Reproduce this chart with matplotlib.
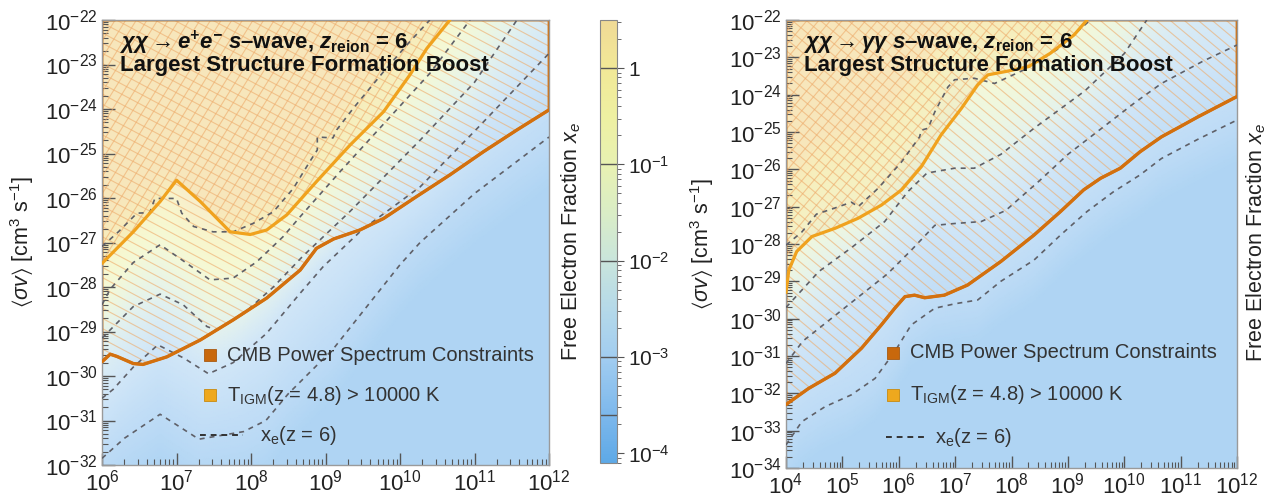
import numpy as np
import matplotlib
matplotlib.use("Agg")
import matplotlib.pyplot as plt
from matplotlib.colors import LinearSegmentedColormap, LogNorm, to_rgb
from matplotlib.collections import LineCollection
from matplotlib.lines import Line2D
import matplotlib.cm as cm
import matplotlib.ticker as mticker

plt.rcParams['font.family'] = ['Liberation Sans', 'DejaVu Sans']
plt.rcParams['mathtext.fontset'] = 'custom'
plt.rcParams['mathtext.rm'] = 'Liberation Sans'
plt.rcParams['mathtext.it'] = 'Liberation Sans:italic'
plt.rcParams['mathtext.bf'] = 'Liberation Sans:bold'
plt.rcParams['mathtext.bfit'] = 'Liberation Sans:bold:italic'
plt.rcParams['mathtext.default'] = 'regular'

# ---------------- data (log10 of mass [eV] and log10 of <sigma v> [cm^3/s]) ----------------
# Left panel: chi chi -> e+ e-
ee_cmb_m = [6.0, 6.11, 6.2, 6.42, 6.55, 6.87, 7.32, 7.76, 8.21, 8.66, 8.88, 9.11, 9.46, 9.78, 10.22, 10.67, 11.12, 11.57, 12.0]
ee_cmb_s = [-29.68, -29.51, -29.56, -29.72, -29.74, -29.57, -29.19, -28.74, -28.25, -27.62, -27.13, -26.92, -26.72, -26.46, -25.97, -25.48, -24.96, -24.47, -24.02]
ee_tigm_m = [6.0, 6.42, 6.78, 7.0, 7.32, 7.72, 7.99, 8.21, 8.48, 8.88, 9.33, 9.78, 10.13, 10.36, 10.67]
ee_tigm_s = [-27.47, -26.76, -26.08, -25.60, -26.08, -26.76, -26.82, -26.72, -26.38, -25.63, -24.81, -24.06, -23.24, -22.64, -22.0]
# x_e(z=6) contours, levels log10 x_e
ee_xe_levels = [-3.6, -3.0, -2.0, -1.0, 0.0]
ee_xe_m = [
    [6.0, 6.3, 6.78, 7.3, 7.9, 8.2, 8.5, 8.8, 9.1, 9.55, 10.0, 10.27, 11.0, 12.0],
    [6.0, 6.15, 6.42, 6.75, 7.1, 7.43, 7.76, 8.21, 8.66, 8.97, 9.5, 10.27, 11.0, 12.0],
    [6.0, 6.42, 6.78, 7.09, 7.41, 7.54, 7.9, 8.3, 8.7, 9.33, 10.27, 11.0, 11.57],
    [6.0, 6.11, 6.42, 6.78, 7.14, 7.45, 7.76, 8.08, 8.43, 8.66, 9.2, 9.8, 10.4, 10.94],
    [6.0, 6.22, 6.47, 6.64, 6.71, 7.0, 7.07, 7.23, 7.49, 7.76, 8.03, 8.30, 8.57, 8.79, 8.89, 8.89, 9.10, 9.15, 9.37, 9.78, 10.13, 10.40],
]
ee_xe_s = [
    [-31.85, -31.4, -30.86, -31.42, -31.25, -31.0, -30.4, -29.9, -29.4, -28.45, -27.5, -27.0, -25.9, -24.63],
    [-30.5, -30.3, -29.8, -29.3, -29.6, -29.95, -29.7, -29.04, -28.14, -27.54, -26.7, -25.75, -24.5, -22.75],
    [-29.15, -28.44, -28.16, -28.40, -28.89, -28.97, -28.6, -28.0, -27.3, -26.3, -24.7, -23.4, -22.0],
    [-28.4, -28.05, -27.45, -27.05, -27.47, -27.84, -27.80, -27.43, -26.87, -26.42, -25.4, -24.3, -23.2, -22.0],
    [-27.09, -26.76, -26.34, -26.33, -26.01, -26.01, -26.34, -26.64, -26.76, -26.76, -26.57, -26.31, -25.78, -25.18, -24.92, -24.63, -24.65, -24.47, -23.99, -23.16, -22.49, -22.0],
]

# Right panel: chi chi -> gamma gamma
gg_cmb_m = [4.0, 4.4, 4.87, 5.34, 5.69, 5.93, 6.11, 6.28, 6.46, 6.81, 7.22, 7.81, 8.40, 8.87, 9.28, 9.58, 9.93, 10.28, 10.66, 11.0, 11.3, 12.0]
gg_cmb_s = [-32.3, -31.87, -31.46, -30.79, -30.17, -29.72, -29.41, -29.37, -29.44, -29.37, -29.10, -28.47, -27.76, -27.13, -26.55, -26.24, -25.97, -25.53, -25.13, -24.85, -24.6, -24.05]
gg_tigm_m = [4.0, 4.05, 4.19, 4.46, 4.87, 5.28, 5.69, 6.05, 6.40, 6.75, 7.11, 7.40, 7.58, 7.93, 8.3, 8.69, 9.11, 9.34]
gg_tigm_s = [-29.3, -28.7, -28.2, -27.8, -27.58, -27.31, -26.96, -26.55, -25.93, -25.08, -24.37, -23.74, -23.47, -23.37, -23.25, -22.89, -22.40, -22.0]
gg_xe_levels = [-3.6, -3.0, -2.0, -1.0]
gg_xe_m = [
    [4.0, 4.28, 4.69, 5.16, 5.58, 5.93, 6.22, 6.64, 7.0, 7.40, 7.81, 8.40, 8.87, 9.34, 9.81, 10.28, 10.66, 11.3, 12.0],
    [4.0, 4.3, 4.8, 5.3, 5.8, 6.2, 6.64, 7.0, 7.46, 7.9, 8.5, 9.0, 9.6, 10.2, 10.66, 11.4, 12.0],
    [4.0, 4.58, 5.16, 5.75, 6.16, 6.5, 6.99, 7.34, 7.81, 8.4, 9.3, 10.0, 10.4],
    [4.0, 4.28, 4.54, 4.86, 5.16, 5.28, 5.64, 6.05, 6.37, 6.40, 6.52, 6.64, 6.87, 6.99, 7.34, 7.70, 8.2, 8.8, 9.4],
]
gg_xe_s = [
    [-33.38, -32.76, -32.36, -32.04, -31.60, -30.88, -30.17, -29.72, -29.6, -29.5, -29.0, -28.43, -27.76, -27.13, -26.6, -26.15, -25.71, -25.2, -24.68],
    [-31.2, -30.6, -30.0, -29.4, -28.8, -28.2, -27.5, -27.45, -27.4, -27.1, -26.3, -25.6, -24.9, -24.2, -23.7, -23.1, -22.67],
    [-29.7, -28.74, -28.1, -27.4, -26.6, -26.1, -25.97, -25.97, -25.6, -24.9, -23.9, -22.9, -22.0],
    [-28.03, -27.68, -27.2, -27.04, -26.88, -27.0, -26.5, -25.8, -25.13, -24.95, -24.9, -24.46, -23.8, -23.6, -23.56, -23.7, -23.35, -22.8, -22.0],
]

# colour bar (log10 x_e) and its colours
cbar_pos = [-4.1, -3.6, -3.0, -2.5, -2.0, -1.5, -1.0, -0.5, 0.0, 0.5]
cbar_col = ['#5ea9e7', '#7db8ec', '#a2cdf0', '#b5d9e9', '#c9e5dc', '#daedc6', '#e8f1b2', '#eef0a2', '#f1e897', '#f0da96']
cbar_ticks = [1e-4, 1e-3, 1e-2, 1e-1, 1.0]
cbar_ticklabels = ['$10^{-4}$', '$10^{-3}$', '$10^{-2}$', '$10^{-1}$', '1']

# ---------------- style ----------------
C_CMB = '#d3700e'
C_TIGM = '#f0a21e'
C_HATCH = '#eeac6c'
C_DASH = '#5f6068'
C_TEXT = '#222222'
BG_ALPHA = 0.5

vmin, vmax = cbar_pos[0], cbar_pos[-1]
nodes = [(p - vmin) / (vmax - vmin) for p in cbar_pos]
cmap = LinearSegmentedColormap.from_list('xe', list(zip(nodes, cbar_col)))
bg_cols = [tuple(BG_ALPHA * np.array(to_rgb(c)) + (1 - BG_ALPHA)) for c in cbar_col]
cmap_bg = LinearSegmentedColormap.from_list('xe_bg', list(zip(nodes, bg_cols)))
norm = LogNorm(10 ** vmin, 10 ** vmax)

W, H = 1283, 495
fig = plt.figure(figsize=(W / 100, H / 100), dpi=100)


def px_axes(x0, y0, x1, y1):
    return fig.add_axes([x0 / W, 1 - y1 / H, (x1 - x0) / W, (y1 - y0) / H])


def extrap(xq, xp, fp):
    xp = np.asarray(xp, float); fp = np.asarray(fp, float)
    out = np.interp(xq, xp, fp)
    sl0 = (fp[1] - fp[0]) / (xp[1] - xp[0])
    sl1 = (fp[-1] - fp[-2]) / (xp[-1] - xp[-2])
    out = np.where(xq < xp[0], fp[0] + sl0 * (xq - xp[0]), out)
    out = np.where(xq > xp[-1], fp[-1] + sl1 * (xq - xp[-1]), out)
    return out


def background(ax, mlim, slim, xm, xs, levels):
    Lg = np.linspace(mlim[0], mlim[1], 240)
    Sg = np.linspace(slim[0], slim[1], 300)
    Z = np.zeros((Sg.size, Lg.size))
    curves = []
    for m, s in zip(xm, xs):
        m = np.asarray(m, float)
        keep = np.concatenate([[True], np.diff(m) > 0])
        curves.append(extrap(Lg, m[keep], np.asarray(s, float)[keep]))
    curves = np.array(curves)
    lv = np.concatenate([[vmin], levels, [vmax]])
    for j in range(Lg.size):
        sp = np.concatenate([[curves[0, j] - 1.2], curves[:, j],
                             [curves[-1, j] + 1.5 * (vmax - levels[-1])]])
        sp = np.maximum.accumulate(sp + np.arange(sp.size) * 1e-6)
        Z[:, j] = np.interp(Sg, sp, lv)
    ax.pcolormesh(10 ** Lg, 10 ** Sg, 10 ** Z, shading='gouraud', cmap=cmap_bg, norm=norm,
                  zorder=0, rasterized=True)


def hatch(ax, coll, angle, spacing, color, lw, alpha, zorder):
    bb = ax.get_position()
    Wp, Hp = bb.width * W, bb.height * H
    th = np.deg2rad(angle)
    d = np.array([np.cos(th), np.sin(th)])
    n = np.array([-np.sin(th), np.cos(th)])
    diag = np.hypot(Wp, Hp)
    c = np.array([Wp / 2, Hp / 2])
    segs = []
    for k in np.arange(-diag / spacing - 1, diag / spacing + 1):
        p0 = c + n * k * spacing - d * diag
        p1 = c + n * k * spacing + d * diag
        segs.append([(p0[0] / Wp, p0[1] / Hp), (p1[0] / Wp, p1[1] / Hp)])
    lc = LineCollection(segs, colors=color, linewidths=lw, alpha=alpha,
                        transform=ax.transAxes, zorder=zorder)
    ax.add_collection(lc, autolim=False)
    lc.set_clip_path(coll.get_paths()[0], ax.transData)


def panel(ax, mlim, slim, cmb_m, cmb_s, tig_m, tig_s, xm, xs, levels, title1, ang1, ang2):
    ax.set_xscale('log'); ax.set_yscale('log')
    ax.set_xlim(10 ** mlim[0], 10 ** mlim[1])
    ax.set_ylim(10 ** slim[0], 10 ** slim[1])
    background(ax, mlim, slim, xm, xs, levels)
    top = 10 ** slim[1]
    f_cmb = ax.fill_between(10 ** np.array(cmb_m), 10 ** np.array(cmb_s), top,
                            facecolor='none', edgecolor=C_CMB, lw=2.0, zorder=2)
    f_tig = ax.fill_between(10 ** np.array(tig_m), 10 ** np.array(tig_s), top,
                            facecolor='#f5b233', alpha=0.10, edgecolor='none', zorder=1)
    hatch(ax, f_cmb, ang1, 9.0, C_HATCH, 0.8, 0.62, 1.5)
    hatch(ax, f_tig, ang2, 9.0, C_HATCH, 0.8, 0.62, 1.6)
    for m, s in zip(xm, xs):
        ax.plot(10 ** np.array(m), 10 ** np.array(s), color=C_DASH, lw=1.2,
                ls=(0, (3, 3)), zorder=3)
    ax.plot(10 ** np.array(cmb_m), 10 ** np.array(cmb_s), color=C_CMB, lw=2.4, zorder=4,
            solid_capstyle='round')
    ax.plot(10 ** np.array(tig_m), 10 ** np.array(tig_s), color=C_TIGM, lw=2.3, zorder=4,
            solid_capstyle='round')
    ax.xaxis.set_major_locator(mticker.LogLocator(base=10, numticks=20))
    ax.yaxis.set_major_locator(mticker.LogLocator(base=10, numticks=20))
    ax.xaxis.set_minor_locator(mticker.LogLocator(base=10, subs=np.arange(2, 10), numticks=200))
    ax.yaxis.set_minor_locator(mticker.LogLocator(base=10, subs=np.arange(2, 10), numticks=200))
    ax.xaxis.set_minor_formatter(mticker.NullFormatter())
    ax.yaxis.set_minor_formatter(mticker.NullFormatter())
    ax.tick_params(which='both', direction='in', color='#555555', labelsize=16,
                   labelcolor=C_TEXT, top=False, right=False)
    ax.tick_params(which='major', length=9, width=1.0, pad=3)
    ax.tick_params(which='minor', length=4, width=0.8)
    for sp in ax.spines.values():
        sp.set_color('#9a9a9a'); sp.set_linewidth(1.0)
    ax.set_ylabel(r'$\langle\mathit{\sigma v}\rangle$ [cm$^3$ s$^{-1}$]', fontsize=15.5, color=C_TEXT)
    ax.text(0.04, 0.949, title1, transform=ax.transAxes, fontsize=16, fontweight='bold',
            va='center', ha='left', color='#111111', zorder=6)
    ax.text(0.04, 0.898, 'Largest Structure Formation Boost', transform=ax.transAxes,
            fontsize=16, fontweight='bold', va='center', ha='left', color='#111111', zorder=6)


# ---------------- left panel ----------------
axL = px_axes(102, 20, 549, 465)
panel(axL, (6, 12), (-32, -22), ee_cmb_m, ee_cmb_s, ee_tigm_m, ee_tigm_s,
      ee_xe_m, ee_xe_s, ee_xe_levels,
      r'$\mathbfit{\chi\chi \rightarrow e^{+}e^{-}\ s}$–wave, $\mathbfit{z}_{\mathbf{reion}}$ = 6',
      -28, 58)
axL.yaxis.set_label_coords(-0.148, 0.5)

# ---------------- right panel ----------------
axR = px_axes(786, 20, 1237, 468)
panel(axR, (4, 12), (-34, -22), gg_cmb_m, gg_cmb_s, gg_tigm_m, gg_tigm_s,
      gg_xe_m, gg_xe_s, gg_xe_levels,
      r'$\mathbfit{\chi\chi \rightarrow \gamma\gamma\ s}$–wave, $\mathbfit{z}_{\mathbf{reion}}$ = 6',
      -40, 50)
axR.yaxis.set_label_coords(-0.155, 0.5)


def legend(ax, xsq, xtxt, ys, xdash, xdtxt):
    ax.plot([xsq], [ys[0]], marker='s', ms=8.5, color='#c8680c', mec='#a85a10', mew=0.6,
            transform=ax.transAxes, zorder=7, clip_on=False)
    ax.plot([xsq], [ys[1]], marker='s', ms=8.5, color='#eea81e', mec='#c88a10', mew=0.6,
            transform=ax.transAxes, zorder=7, clip_on=False)
    ax.add_line(Line2D(xdash, [ys[2], ys[2]], color='#333333', lw=1.4, ls=(0, (3, 2.5)),
                       transform=ax.transAxes, zorder=7))
    kw = dict(transform=ax.transAxes, fontsize=14.5, color='#333333', va='center', ha='left', zorder=7)
    ax.text(xtxt, ys[0], 'CMB Power Spectrum Constraints', **kw)
    ax.text(xtxt, ys[1], r'T$_{\rm IGM}$(z = 4.8) > 10000 K', **kw)
    ax.text(xdtxt, ys[2], r'x$_{\rm e}$(z = 6)', **kw)


legend(axL, 0.2416, 0.2796, [0.247, 0.157, 0.0674], [0.219, 0.315], 0.353)
legend(axR, 0.237, 0.275, [0.257, 0.163, 0.069], [0.222, 0.315], 0.330)

# ---------------- colour bar ----------------
cax = px_axes(600, 20, 617, 463)
sm = cm.ScalarMappable(norm=norm, cmap=cmap)
cb = fig.colorbar(sm, cax=cax)
cb.set_ticks(cbar_ticks)
cb.set_ticklabels(cbar_ticklabels)
cb.ax.tick_params(which='major', labelsize=15, length=5, color='#555555', labelcolor=C_TEXT, pad=3)
cb.ax.tick_params(which='minor', length=3, color='#555555')
cb.outline.set_edgecolor('#888888')
for lv in [1.0, 1e-1, 1e-2, 1e-3, 10 ** -3.6]:
    cax.axhline(lv, color='#555555', lw=1.0)
cb.set_label(r'Free Electron Fraction $\mathit{x_e}$', fontsize=15.5, color=C_TEXT)
cb.ax.yaxis.set_label_position('left')
cb.ax.yaxis.set_label_coords(-1.0, 0.5)

fig.text(1256 / W, 1 - 242 / H, r'Free Electron Fraction $\mathit{x_e}$', rotation=90, fontsize=15.5,
         color=C_TEXT, ha='center', va='center')

fig.savefig('out.png', dpi=100)
